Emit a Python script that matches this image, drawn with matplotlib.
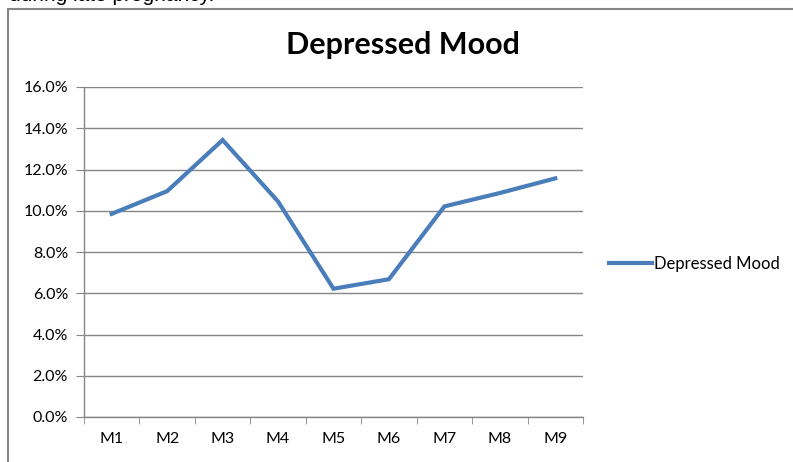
import matplotlib
matplotlib.use('Agg')
import matplotlib.pyplot as plt
from matplotlib.patches import Rectangle
from matplotlib.ticker import FuncFormatter, FixedLocator

# data
months = ['M1', 'M2', 'M3', 'M4', 'M5', 'M6', 'M7', 'M8', 'M9']
depressed = [9.85, 10.95, 13.43, 10.45, 6.22, 6.68, 10.21, 10.86, 11.57]
y_ticks = [0, 2, 4, 6, 8, 10, 12, 14, 16]

plt.rcParams['font.family'] = ['Lato', 'DejaVu Sans']

W, H = 793, 462
fig = plt.figure(figsize=(W / 100, H / 100), dpi=100)

# chart area frame (cut at right and bottom)
fig.patches.append(Rectangle((8 / W, -0.05), 1.0, 1.05 - 9 / H, transform=fig.transFigure,
                             fill=False, edgecolor='#868686', lw=1.5))
# caption cut off at the top of the picture
fig.text(9 / W, 1 - 1 / H, 'during late pregnancy.', fontsize=15,
         family='Liberation Sans', va='baseline', ha='left')

ax = fig.add_axes([84 / W, 1 - 417 / H, (583 - 84) / W, (417 - 87) / H])
x = list(range(len(months)))
ax.plot(x, depressed, color='#4a7ebb', lw=3, solid_joinstyle='miter', label='Depressed Mood')

ax.set_xlim(-0.5, len(months) - 0.5)
ax.set_ylim(0, 16)
ax.set_yticks(y_ticks)
ax.yaxis.set_major_formatter(FuncFormatter(lambda v, p: f'{v:.1f}%'))
ax.set_xticks(x)
ax.set_xticklabels(months)
ax.xaxis.set_minor_locator(FixedLocator([i - 0.5 for i in range(len(months) + 1)]))
ax.tick_params(axis='x', which='major', length=0, pad=11, labelsize=11.5)
ax.tick_params(axis='x', which='minor', length=5, color='#868686', direction='out')
ax.tick_params(axis='y', length=5.5, color='#868686', pad=6, labelsize=11.5)

ax.grid(axis='y', color='#868686', lw=1)
ax.set_axisbelow(True)
for s in ['top', 'right']:
    ax.spines[s].set_visible(False)
for s in ['left', 'bottom']:
    ax.spines[s].set_color('#868686')
    ax.spines[s].set_linewidth(1)

fig.text(403 / W, 1 - 45 / H, 'Depressed Mood', fontsize=22, fontweight='bold',
         ha='center', va='center')

fig.legend(loc='center left', bbox_to_anchor=(609 / W, 1 - 264 / H), frameon=False,
           fontsize=12, handlelength=2.6, handletextpad=0.1, borderpad=0, borderaxespad=0)

fig.savefig('out.png', dpi=100)
